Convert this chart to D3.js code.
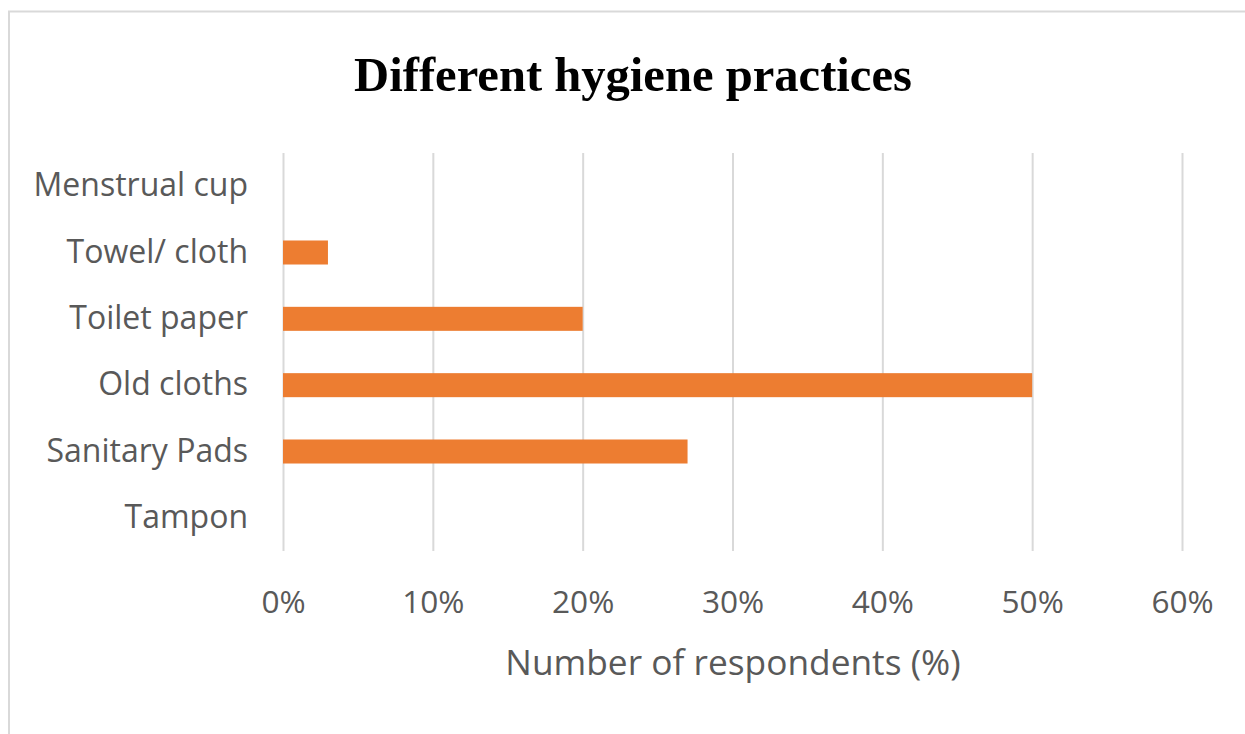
<!DOCTYPE html>
<html><head><meta charset="utf-8">
<script src="https://cdn.jsdelivr.net/npm/d3@7"></script>
<style>body{margin:0;background:#fff;}svg{display:block;}</style>
</head><body>
<svg id="c" width="1245" height="734"></svg>
<script>
const categories = ["Menstrual cup","Towel/ cloth","Toilet paper","Old cloths","Sanitary Pads","Tampon"];
const values = [0, 3, 20, 50, 27, 0];
const tickValues = [0, 10, 20, 30, 40, 50, 60];
const title = "Different hygiene practices";
const xTitle = "Number of respondents (%)";

(function(){
const svg = d3.select("#c");
svg.append("rect").attr("x",9).attr("y",11.5).attr("width",1250).attr("height",740)
  .attr("fill","#fff").attr("stroke","#d9d9d9").attr("stroke-width",2);

const pl = 283, pr = 1182, pt = 153, pb = 551;
const x = d3.scaleLinear().domain([0,60]).range([pl,pr]);
const y = d3.scaleBand().domain(categories).range([pt,pb]).paddingInner(0.638).paddingOuter(0.319);

svg.append("text").attr("x",633).attr("y",91).attr("text-anchor","middle")
  .attr("font-family","Liberation Serif").attr("font-weight","bold").attr("font-size",48.6)
  .attr("fill","#000").text(title);

const xAxis = d3.axisBottom(x).tickValues(tickValues).tickFormat(d=>d+"%").tickSize(-(pb-pt)).tickPadding(40);
const gx = svg.append("g").attr("transform",`translate(0,${pb})`).call(xAxis);
gx.select(".domain").remove();
gx.selectAll(".tick line").attr("stroke","#d9d9d9").attr("stroke-width",2);
gx.selectAll(".tick text").attr("font-family","Open Sans").attr("font-size",31.6).attr("fill","#595959");

const yAxis = d3.axisLeft(y).tickSize(0).tickPadding(35);
const gy = svg.append("g").attr("transform",`translate(${pl},0)`).call(yAxis);
gy.select(".domain").remove();
gy.selectAll(".tick text").attr("font-family","Open Sans").attr("font-size",32).attr("fill","#595959");

svg.append("g").selectAll("rect").data(categories).join("rect")
  .attr("x",x(0)).attr("y",d=>y(d)).attr("height",y.bandwidth())
  .attr("width",(d,i)=>x(values[i])-x(0)).attr("fill","#ED7D31");

svg.append("text").attr("x",733).attr("y",675).attr("text-anchor","middle")
  .attr("font-family","Open Sans").attr("font-size",35.3).attr("fill","#595959").text(xTitle);
})();
</script>
</body></html>
